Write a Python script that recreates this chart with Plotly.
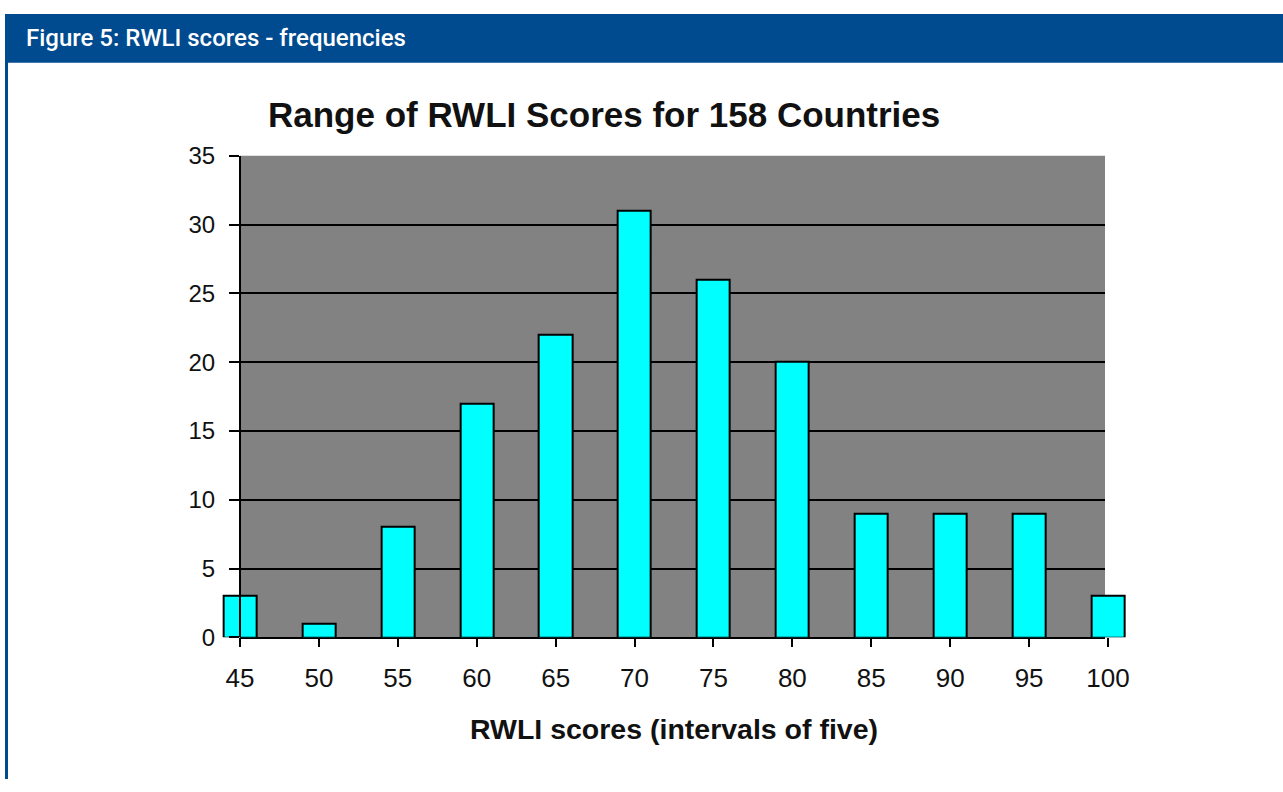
import plotly.graph_objects as go

# ---- data ----
score_bins = [45, 50, 55, 60, 65, 70, 75, 80, 85, 90, 95, 100]
country_counts = [3, 1, 8, 17, 22, 31, 26, 20, 9, 9, 9, 3]
y_ticks = [0, 5, 10, 15, 20, 25, 30, 35]

W, H = 1283, 792
BLUE = "#004b8f"
GRAY = "#828282"

# pixel layout (screen pixels of the target picture)
px_left, px_right = 240, 1105       # gray plot area
px_y0, px_y35 = 637, 155            # y=0 and y=35
px_45, px_100 = 240, 1108           # tick positions
scale = (px_100 - px_45) / 55.0     # px per unit

# vertical mapping observed for the rendered page
Y_OFF, Y_SPAN = 13.1, 765.7

def fx(p):
    return p / W

def fy(p):
    return min(1.0, max(0.0, 1 - (p - Y_OFF) / Y_SPAN))

xA_range = [45, 45 + (px_right - px_left) / scale]
xB_range = [42, 103]
xB_left = px_45 - 3 * scale
xB_right = px_100 + 3 * scale

fig = go.Figure()

# empty trace to register subplot A (gray area with grid)
fig.add_trace(go.Scatter(x=[], y=[], xaxis="x", yaxis="y", showlegend=False, hoverinfo="skip"))

fig.add_trace(go.Bar(
    x=score_bins, y=country_counts, xaxis="x2", yaxis="y2",
    width=2.1,
    marker=dict(color="#00ffff", line=dict(color="black", width=2)),
    showlegend=False,
))

font_main = "Liberation Sans, Arial, sans-serif"

fig.update_layout(
    width=W, height=H,
    margin=dict(l=0, r=0, t=0, b=0),
    paper_bgcolor="white",
    plot_bgcolor="rgba(0,0,0,0)",
    bargap=0,
    xaxis=dict(
        domain=[fx(px_left), fx(px_right)], range=xA_range,
        showgrid=False, zeroline=False, showticklabels=False, ticks="",
        showline=True, linecolor="black", linewidth=2,
        anchor="y", fixedrange=True,
    ),
    yaxis=dict(
        domain=[fy(px_y0), fy(px_y35)], range=[0, 35],
        showgrid=True, gridcolor="black", gridwidth=2,
        zeroline=False, showticklabels=False, ticks="",
        tickvals=y_ticks, anchor="x", showline=False,
    ),
    xaxis2=dict(
        domain=[fx(xB_left), fx(xB_right)], range=xB_range,
        anchor="y2", showgrid=False, zeroline=False, showline=False,
        tickvals=score_bins, ticktext=[str(v) for v in score_bins],
        ticks="outside", ticklen=9, tickwidth=2, tickcolor="black",
        ticklabelstandoff=8,
        tickfont=dict(family=font_main, size=26, color="#111"),
        title=dict(text="<b>RWLI scores (intervals of five)</b>",
                   font=dict(family=font_main, size=28.5, color="#111"),
                   standoff=27),
    ),
    yaxis2=dict(
        domain=[fy(px_y0), fy(px_y35)], range=[0, 35],
        anchor="free", position=fx(px_left),
        showgrid=False, zeroline=False,
        showline=True, linecolor="black", linewidth=2,
        tickvals=y_ticks, ticks="outside", ticklen=10, tickwidth=2, tickcolor="black",
        ticklabelstandoff=9,
        tickfont=dict(family=font_main, size=24, color="#111"),
    ),
    shapes=[
        # gray plot area
        dict(type="rect", xref="x domain", yref="y domain", x0=0, x1=1, y0=0, y1=1,
             fillcolor=GRAY, line=dict(width=0), layer="below"),
        # header band
        dict(type="rect", xref="paper", yref="paper", x0=fx(5), x1=1, y0=fy(62), y1=fy(8),
             fillcolor=BLUE, line=dict(width=0), layer="above"),
        # left border
        dict(type="rect", xref="paper", yref="paper", x0=fx(5), x1=fx(8), y0=0, y1=fy(8),
             fillcolor=BLUE, line=dict(width=0), layer="above"),
    ],
    annotations=[
        dict(text="Figure 5: RWLI scores - frequencies", xref="paper", yref="paper",
             x=fx(24), y=fy(37), xanchor="left", yanchor="middle", showarrow=False,
             font=dict(family="Roboto, Open Sans, sans-serif", size=24, weight=500, color="white")),
        dict(text="<b>Range of RWLI Scores for 158 Countries</b>", xref="paper", yref="paper",
             x=fx(604), y=fy(114), xanchor="center", yanchor="middle", showarrow=False,
             font=dict(family=font_main, size=35, color="#111")),
    ],
)

fig.write_html(
    "out.html",
    config={"displayModeBar": False},
    post_script="document.body.style.margin='0';document.body.style.overflow='hidden';",
)
